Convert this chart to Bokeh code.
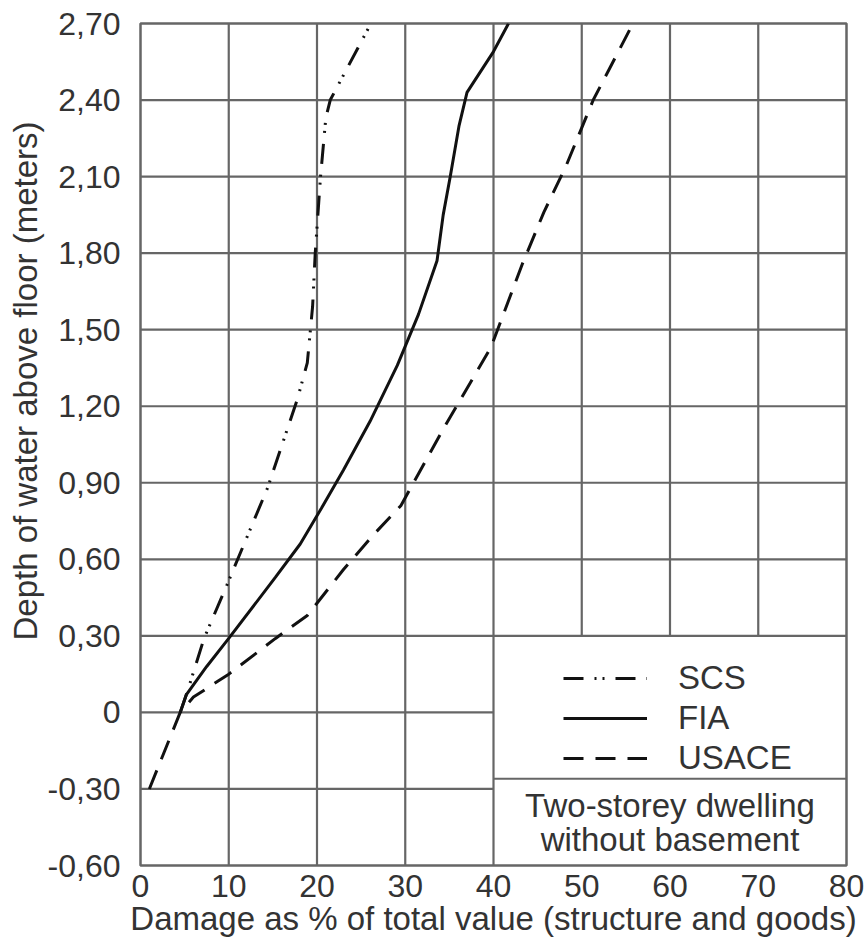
from bokeh.plotting import figure
from bokeh.models import (FixedTicker, Legend, LegendItem, Label, Range1d, Title)
from bokeh.embed import file_html
from bokeh.resources import INLINE

# ---- data ----
scs_x = [4.5, 5.3, 7.2, 9.8, 14.4, 17.8, 18.9, 19.5, 19.8, 20.4, 21.0, 21.5, 25.8]
scs_y = [0.0, 0.08, 0.29, 0.50, 0.88, 1.23, 1.37, 1.59, 1.80, 2.10, 2.33, 2.40, 2.68]

fia_x = [4.5, 5.2, 7.5, 10.0, 15.3, 18.1, 20.5, 23.0, 26.0, 29.1, 31.5, 33.6, 34.3, 35.1, 36.1, 37.0, 40.0, 41.7]
fia_y = [0.0, 0.07, 0.18, 0.29, 0.53, 0.66, 0.80, 0.95, 1.14, 1.36, 1.56, 1.77, 1.95, 2.10, 2.30, 2.43, 2.59, 2.70]

usace_x = [1.0, 4.5, 6.0, 10.0, 15.3, 18.9, 23.0, 26.5, 29.5, 34.3, 39.7, 43.3, 45.7, 48.2, 51.3, 55.5]
usace_y = [-0.30, 0.0, 0.06, 0.15, 0.29, 0.38, 0.56, 0.70, 0.81, 1.11, 1.43, 1.76, 1.96, 2.14, 2.40, 2.68]

x_ticks = [0, 10, 20, 30, 40, 50, 60, 70, 80]
y_ticks = [-0.6, -0.3, 0.0, 0.3, 0.6, 0.9, 1.2, 1.5, 1.8, 2.1, 2.4, 2.7]
y_tick_labels = ["-0,60", "-0,30", "0", "0,30", "0,60", "0,90", "1,20", "1,50",
                 "1,80", "2,10", "2,40", "2,70"]

series_names = ["SCS", "FIA", "USACE"]
caption_lines = ["Two-storey dwelling", "without basement"]
x_title = "Damage as % of total value (structure and goods)"
y_title = "Depth of water above floor (meters)"

# ---- figure ----
FONT = "Liberation Sans"
TXT = "#333333"
GRID = "#666666"
FS_TICK = "32px"
FS = "33px"

p = figure(width=867, height=951, output_backend="svg", toolbar_location=None,
           x_range=Range1d(0, 80), y_range=Range1d(-0.6, 2.7),
           min_border_left=140, min_border_right=21, min_border_top=23,
           min_border_bottom=86)
p.xgrid.visible = False
p.ygrid.visible = False
p.outline_line_color = GRID
p.outline_line_width = 2.5
p.background_fill_color = "white"
p.border_fill_color = "white"

# gridlines (partial, as in the reference)
xmin, xmax = x_ticks[0], x_ticks[-1]
ymin, ymax = y_ticks[0], y_ticks[-1]
legend_top = y_ticks[3]
mid_x = x_ticks[4]
vx0, vy0, vx1, vy1 = [], [], [], []
for xv in x_ticks[1:-1]:
    vx0.append(xv); vx1.append(xv)
    vy0.append(ymin if xv <= mid_x else legend_top)
    vy1.append(ymax)
for yv in y_ticks[1:-1]:
    vy0.append(yv); vy1.append(yv)
    vx0.append(xmin)
    vx1.append(xmax if yv >= legend_top else mid_x)
p.segment(x0=vx0, y0=vy0, x1=vx1, y1=vy1, line_color=GRID, line_width=2.2)
# divider inside the legend box
p.segment(x0=[mid_x], y0=[-0.26], x1=[xmax], y1=[-0.26], line_color=GRID, line_width=2.2)

# curves
r_scs = p.line(scs_x, scs_y, line_color="#111111", line_width=3, line_dash="20 11 2 6 2 11")
r_fia = p.line(fia_x, fia_y, line_color="#111111", line_width=3)
r_usace = p.line(usace_x, usace_y, line_color="#111111", line_width=3, line_dash="20 12")

# axes
for ax in (p.xaxis[0], p.yaxis[0]):
    ax.axis_line_color = None
    ax.major_tick_line_color = None
    ax.minor_tick_line_color = None
    ax.major_tick_out = 0
    ax.major_label_text_font = FONT
    ax.major_label_text_font_size = FS_TICK
    ax.major_label_text_color = TXT
p.xaxis.ticker = FixedTicker(ticks=x_ticks)
p.yaxis.ticker = FixedTicker(ticks=y_ticks)
p.yaxis.major_label_overrides = {t: l for t, l in zip(y_ticks, y_tick_labels)}
p.xaxis.major_label_standoff = 9
p.yaxis.major_label_standoff = 20
p.xaxis.axis_label = x_title
p.xaxis.axis_label_text_font = FONT
p.xaxis.axis_label_text_font_size = FS
p.xaxis.axis_label_text_font_style = "normal"
p.xaxis.axis_label_text_color = TXT
p.xaxis.axis_label_standoff = 0

# y title as a side title (it is not centred on the frame in the reference)
p.add_layout(Title(text=y_title, align="right", offset=98, text_font=FONT,
                   text_font_size=FS, text_font_style="normal", text_color=TXT,
                   standoff=2), "left")

# legend
legend = Legend(items=[LegendItem(label=n, renderers=[r]) for n, r in
                       zip(series_names, [r_scs, r_fia, r_usace])],
                location=(423, 87), orientation="vertical")
legend.background_fill_alpha = 0
legend.border_line_color = None
legend.glyph_width = 84
legend.glyph_height = 40
legend.label_height = 40
legend.spacing = 0
legend.padding = 0
legend.margin = 0
legend.label_standoff = 31
legend.label_text_font = FONT
legend.label_text_font_size = FS
legend.label_text_color = TXT
p.add_layout(legend)

# caption
for txt, yv in zip(caption_lines, [-0.365, -0.50]):
    p.add_layout(Label(x=60, y=yv, text=txt, text_align="center", text_baseline="middle",
                       text_font=FONT, text_font_size=FS, text_color=TXT))

open("out.html", "w").write(file_html(p, INLINE))
